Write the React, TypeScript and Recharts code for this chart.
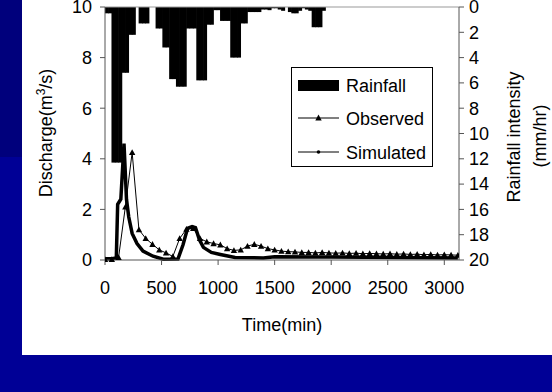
import React from "react";
import { ComposedChart, Bar, Line, XAxis, YAxis, ReferenceLine } from "recharts";

const FONT = "'Liberation Sans', Arial, sans-serif";

/* Rainfall intensity (mm/hr), 30-min bins starting at t = 0 */
const rainStep = 30;
const rainfall = [
  0.5, 0.5, 12.3, 12.3, 12.3, 5.2, 5.2, 2.2, 2.2, 0,
  1.3, 1.3, 1.3, 0, 0, 1.7, 1.7, 3.2, 3.2, 5.7,
  5.7, 6.3, 6.3, 6.3, 1.7, 1.7, 1.7, 5.8, 5.8, 5.8,
  1.4, 1.4, 0.25, 0.25, 1.1, 1.1, 1.1, 4.0, 4.0, 4.0,
  1.3, 1.3, 0.4, 0.4, 0.4, 0.4, 0.2, 0.2, 0.25, 0.1,
  0.1, 0.2, 0.3, 0, 0.4, 0.5, 0.5, 0.3, 0.1, 0.2,
  0.3, 1.6, 1.6, 1.6, 0.3, 0,
];

/* Observed discharge (m3/s), hourly from t = 0 */
const obsStep = 60;
const observed = [
  0.02, 0.02, 0.1, 2.1, 4.25, 1.2, 0.85, 0.62, 0.4, 0.28,
  0.14, 0.85, 1.22, 1.25, 0.85, 0.72, 0.65, 0.6, 0.45, 0.38,
  0.4, 0.55, 0.62, 0.55, 0.45, 0.4, 0.35, 0.33, 0.32, 0.3,
  0.3, 0.28, 0.3, 0.28, 0.27, 0.28, 0.26, 0.27, 0.25, 0.26,
  0.25, 0.24, 0.25, 0.23, 0.24, 0.22, 0.23, 0.21, 0.22, 0.2,
  0.21, 0.2, 0.19,
];

/* Simulated discharge (m3/s) */
const simTime = [
  0, 60, 100, 112, 140, 168, 190, 210, 240, 283, 336, 425, 515, 645,
  690, 730, 770, 800, 835, 870, 940, 1020, 1150, 1400, 1500, 2000,
  2600, 3120,
];
const simulated = [
  0.05, 0.05, 0.08, 2.2, 2.4, 4.6, 2.4, 1.7, 1.05, 0.65, 0.35, 0.15, 0.03,
  0.04, 0.6, 1.25, 1.32, 1.28, 0.8, 0.5, 0.3, 0.22, 0.1, 0.08, 0.13, 0.12,
  0.1, 0.08,
];

const xTicks = [0, 500, 1000, 1500, 2000, 2500, 3000];
const qTicks = [0, 2, 4, 6, 8, 10];
const rainTicks = [0, 2, 4, 6, 8, 10, 12, 14, 16, 18, 20];

type Row = { t: number; rain?: number; obs?: number; sim?: number };

function buildRows(): Row[] {
  const map = new Map<number, Row>();
  const get = (t: number) => {
    if (!map.has(t)) map.set(t, { t });
    return map.get(t)!;
  };
  rainfall.forEach((v, i) => (get(i * rainStep + rainStep / 2).rain = v));
  observed.forEach((v, i) => (get(i * obsStep).obs = v));
  simTime.forEach((t, i) => (get(t).sim = simulated[i]));
  return [...map.values()].sort((a, b) => a.t - b.t);
}

const rows = buildRows();

const tick = { fontSize: 18, fill: "#000", fontFamily: FONT };
const axisStroke = { stroke: "#555" };

// 30 min on the time axis is ~3.4 px; widen each bar around the centre Recharts gives it
const RAIN_W = 4;
function RainBar(p: any) {
  const { x, y, width, height } = p;
  if (x == null || y == null || !height || Number.isNaN(height)) return <g />;
  const cx = x + (width || 0) / 2;
  const top = height < 0 ? y + height : y;
  return <rect x={cx - RAIN_W / 2} y={top} width={RAIN_W} height={Math.abs(height)} fill="#000" />;
}

function TriangleDot(p: any) {
  const { cx, cy, index } = p;
  if (cx == null || cy == null || Number.isNaN(cy)) return <g key={index} />;
  return (
    <path
      key={index}
      d={`M${cx - 3.2},${cy + 2.6}L${cx + 3.2},${cy + 2.6}L${cx},${cy - 3.2}Z`}
      fill="#000"
    />
  );
}

function LegendBox() {
  return (
    <div
      style={{
        position: "absolute",
        left: 291,
        top: 67,
        width: 142,
        height: 100,
        boxSizing: "border-box",
        border: "1px solid #000",
        background: "#fff",
      }}
    >
      <svg width={140} height={98} style={{ display: "block" }}>
        <g fontFamily={FONT} fontSize={18} fill="#000">
          <rect x={6} y={12} width={41} height={11} fill="#000" />
          <text x={54} y={24}>Rainfall</text>
          <line x1={6} x2={47} y1={50} y2={50} stroke="#000" strokeWidth={1} />
          <path d="M23.3,52.6L29.7,52.6L26.5,46.4Z" fill="#000" />
          <text x={54} y={57}>Observed</text>
          <line x1={6} x2={47} y1={84} y2={84} stroke="#000" strokeWidth={1} />
          <circle cx={26.5} cy={84} r={1.8} fill="#000" />
          <text x={54} y={91}>Simulated</text>
        </g>
      </svg>
    </div>
  );
}

export default function App() {
  return (
    <div
      style={{
        position: "absolute",
        left: 0,
        top: 0,
        width: 552,
        height: 392,
        background: "#000096",
        overflow: "hidden",
      }}
    >
      <div style={{ position: "absolute", left: 0, top: 0, width: 22, height: 157, background: "#00007c" }} />
      <div style={{ position: "absolute", left: 22, top: 0, width: 530, height: 355, background: "#fff" }} />
      <div style={{ position: "absolute", left: 0, top: 0 }}>
        <ComposedChart
          width={552}
          height={392}
          data={rows}
          margin={{ top: 7, right: 33, bottom: 92, left: 45 }}
        >
          <XAxis
            dataKey="t"
            type="number"
            domain={[0, 3130]}
            ticks={xTicks}
            interval={0}
            allowDataOverflow
            height={40}
            tick={tick}
            tickSize={5}
            tickMargin={16}
            axisLine={axisStroke}
            tickLine={axisStroke}
            label={{
              content: () => (
                <text x={282} y={331} textAnchor="middle" fontSize={18} fontFamily={FONT} fill="#000">
                  Time(min)
                </text>
              ),
            }}
          />
          <YAxis
            yAxisId="q"
            domain={[0, 10]}
            ticks={qTicks}
            interval={0}
            width={60}
            tick={tick}
            tickSize={5}
            tickMargin={8}
            axisLine={axisStroke}
            tickLine={axisStroke}
            label={{
              content: () => (
                <text
                  x={52}
                  y={133}
                  transform="rotate(-90 52 133)"
                  textAnchor="middle"
                  fontSize={18}
                  fontFamily={FONT}
                  fill="#000"
                >
                  Discharge(m<tspan dy={-7} fontSize={12}>3</tspan>
                  <tspan dy={7}>/s)</tspan>
                </text>
              ),
            }}
          />
          <YAxis
            yAxisId="rain"
            orientation="right"
            reversed
            domain={[0, 20]}
            ticks={rainTicks}
            interval={0}
            width={60}
            tick={tick}
            tickSize={5}
            tickMargin={5}
            axisLine={axisStroke}
            tickLine={axisStroke}
            label={{
              content: () => (
                <g fontSize={18} fontFamily={FONT} fill="#000">
                  <text x={520} y={137} transform="rotate(-90 520 137)" textAnchor="middle">
                    Rainfall intensity
                  </text>
                  <text x={546} y={136} transform="rotate(-90 546 136)" textAnchor="middle">
                    (mm/hr)
                  </text>
                </g>
              ),
            }}
          />
          <ReferenceLine yAxisId="q" y={10} stroke="#999" strokeWidth={1} />
          <Bar
            yAxisId="rain"
            dataKey="rain"
            fill="#000"
            barSize={3.4}
            shape={RainBar}
            isAnimationActive={false}
          />
          <Line
            yAxisId="q"
            type="linear"
            dataKey="sim"
            stroke="#000"
            strokeWidth={3.5}
            connectNulls
            dot={false}
            isAnimationActive={false}
          />
          <Line
            yAxisId="q"
            type="linear"
            dataKey="obs"
            stroke="#000"
            strokeWidth={1}
            connectNulls
            dot={TriangleDot}
            isAnimationActive={false}
          />
        </ComposedChart>
      </div>
      <LegendBox />
    </div>
  );
}
